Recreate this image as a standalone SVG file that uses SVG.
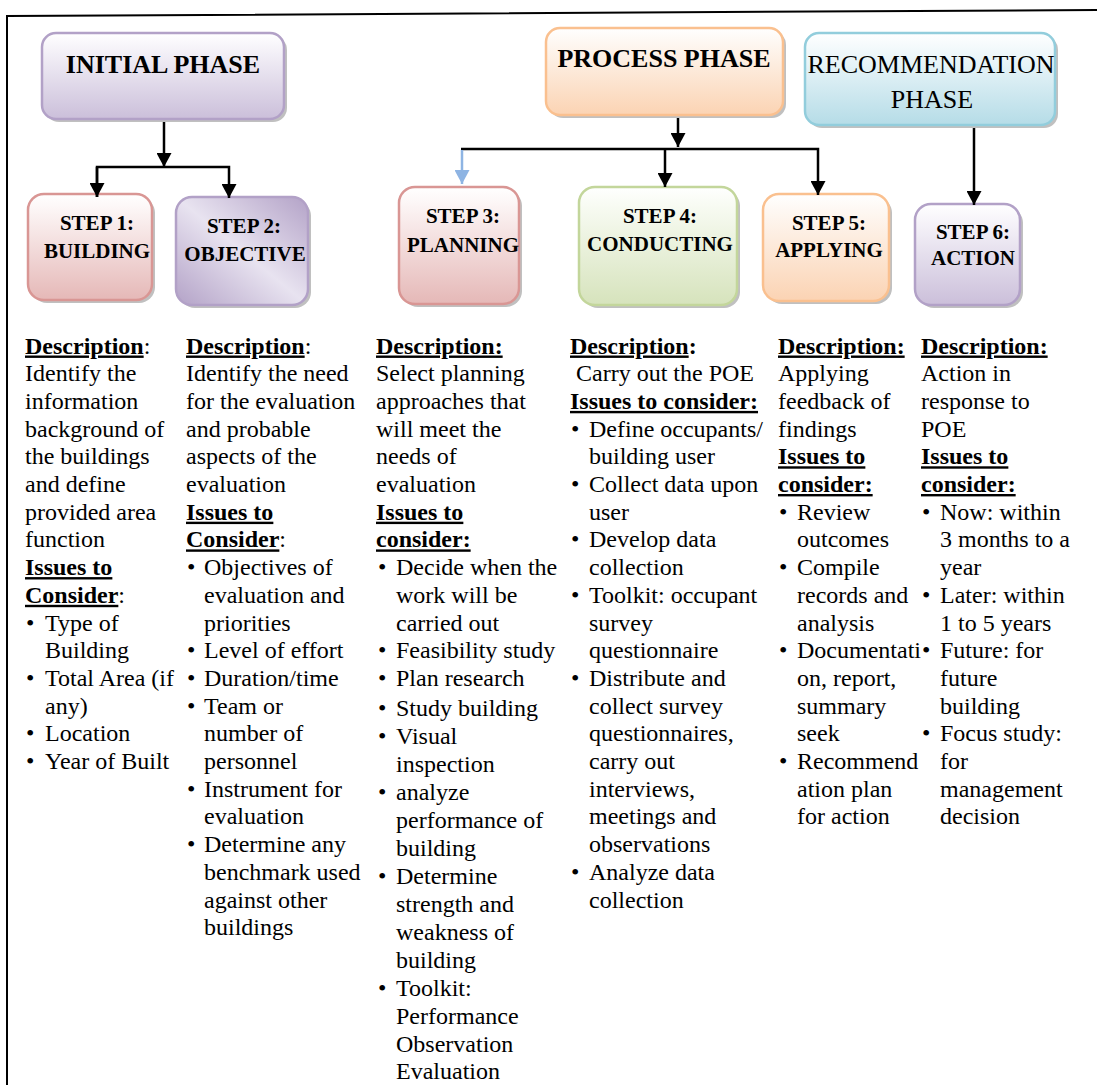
<svg xmlns="http://www.w3.org/2000/svg" width="1097" height="1085" viewBox="0 0 1097 1085" font-family="Liberation Serif, Times New Roman, DejaVu Serif, serif">
<defs>
  <linearGradient id="gPur" x1="0" y1="0" x2="0" y2="1"><stop offset="0" stop-color="#ffffff"/><stop offset="0.15" stop-color="#f7f5fa"/><stop offset="1" stop-color="#cbbfda"/></linearGradient>
  <linearGradient id="gRed" x1="0" y1="0" x2="0" y2="1"><stop offset="0" stop-color="#ffffff"/><stop offset="0.15" stop-color="#fcf5f5"/><stop offset="1" stop-color="#e5b8b7"/></linearGradient>
  <linearGradient id="gOra" x1="0" y1="0" x2="0" y2="1"><stop offset="0" stop-color="#ffffff"/><stop offset="0.15" stop-color="#fef8f3"/><stop offset="1" stop-color="#fbd3b3"/></linearGradient>
  <linearGradient id="gBlu" x1="0" y1="0" x2="0" y2="1"><stop offset="0" stop-color="#ffffff"/><stop offset="0.15" stop-color="#f4fafc"/><stop offset="1" stop-color="#b5dce7"/></linearGradient>
  <linearGradient id="gGrn" x1="0" y1="0" x2="0" y2="1"><stop offset="0" stop-color="#ffffff"/><stop offset="0.15" stop-color="#f8fbf3"/><stop offset="1" stop-color="#d6e3bc"/></linearGradient>
  <linearGradient id="gDiag" x1="0" y1="1" x2="1" y2="0"><stop offset="0" stop-color="#b3a2c7"/><stop offset="0.5" stop-color="#e8e3f0"/><stop offset="1" stop-color="#b3a2c7"/></linearGradient>
  <marker id="ah" markerUnits="userSpaceOnUse" markerWidth="14" markerHeight="15" viewBox="0 0 14 15" refX="14" refY="7.5" orient="auto">
    <path d="M0,0 L14,7.5 L0,15 Z" fill="#000"/>
  </marker>
  <marker id="ahb" markerUnits="userSpaceOnUse" markerWidth="14" markerHeight="15" viewBox="0 0 14 15" refX="14" refY="7.5" orient="auto">
    <path d="M0,0 L14,7.5 L0,15 Z" fill="#8eb4e3"/>
  </marker>
</defs>
<style>
  text{font-family:Liberation Serif, Times New Roman, DejaVu Serif, serif}
  .t{font-size:24px;fill:#000}
  .b{font-weight:bold}
  .u{text-decoration:underline}
  .lbl{font-weight:bold;font-size:21px;text-anchor:middle;fill:#000}
  .ph{font-size:26px;text-anchor:middle;fill:#000}
  .sh{fill:#8c8c8c;opacity:0.55}
  .box{stroke-width:2.5}
  .pur{fill:url(#gPur);stroke:#b2a1c7}
  .red{fill:url(#gRed);stroke:#d99694}
  .ora{fill:url(#gOra);stroke:#fac08f}
  .blu{fill:url(#gBlu);stroke:#92cddc}
  .grn{fill:url(#gGrn);stroke:#c3d69b}
  .dia{fill:url(#gDiag);stroke:#b2a1c7}
  .conn{stroke:#000;stroke-width:2.5;fill:none}
</style>

<rect width="1097" height="1085" fill="#ffffff"/>
<!-- outer frame -->
<polyline points="7,1085 7,16 1097,10" fill="none" stroke="#000" stroke-width="2"/>

<!-- phase nodes -->
<g id="initial-phase">
  <rect class="sh" x="45" y="36" width="242" height="86" rx="14"/>
  <rect class="box pur" x="42" y="33" width="242" height="86" rx="14"/>
  <text class="ph b" x="163" y="73">INITIAL PHASE</text>
</g>
<g id="process-phase">
  <rect class="sh" x="549" y="31" width="237" height="87" rx="14"/>
  <rect class="box ora" x="546" y="28" width="237" height="87" rx="14"/>
  <text class="ph b" x="664" y="67">PROCESS PHASE</text>
</g>
<g id="recommendation-phase">
  <rect class="sh" x="808" y="36" width="250" height="92" rx="14"/>
  <rect class="box blu" x="805" y="33" width="250" height="92" rx="14"/>
  <text class="ph" x="931" y="73">RECOMMENDATION</text>
  <text class="ph" x="932" y="108">PHASE</text>
</g>

<!-- step nodes -->
<g id="step1">
  <rect class="sh" x="31" y="197" width="124" height="106" rx="16"/>
  <rect class="box red" x="28" y="194" width="124" height="106" rx="16"/>
  <text class="lbl" x="97" y="230">STEP 1:</text>
  <text class="lbl" x="97" y="258">BUILDING</text>
</g>
<g id="step2">
  <rect class="sh" x="179" y="200" width="132" height="108" rx="16"/>
  <rect class="box dia" x="176" y="197" width="132" height="108" rx="16"/>
  <text class="lbl" x="244" y="233">STEP 2:</text>
  <text class="lbl" x="245" y="261">OBJECTIVE</text>
</g>
<g id="step3">
  <rect class="sh" x="402" y="190" width="120" height="117" rx="16"/>
  <rect class="box red" x="399" y="187" width="120" height="117" rx="16"/>
  <text class="lbl" x="463" y="223">STEP 3:</text>
  <text class="lbl" x="463" y="252">PLANNING</text>
</g>
<g id="step4">
  <rect class="sh" x="582" y="190" width="158" height="118" rx="16"/>
  <rect class="box grn" x="579" y="187" width="158" height="118" rx="16"/>
  <text class="lbl" x="660" y="223">STEP 4:</text>
  <text class="lbl" x="660" y="251">CONDUCTING</text>
</g>
<g id="step5">
  <rect class="sh" x="766" y="197" width="126" height="107" rx="16"/>
  <rect class="box ora" x="763" y="194" width="126" height="107" rx="16"/>
  <text class="lbl" x="829" y="230">STEP 5:</text>
  <text class="lbl" x="829" y="257">APPLYING</text>
</g>
<g id="step6">
  <rect class="sh" x="918" y="207" width="105" height="101" rx="16"/>
  <rect class="box pur" x="915" y="204" width="105" height="101" rx="16"/>
  <text class="lbl" x="973" y="239">STEP 6:</text>
  <text class="lbl" x="973" y="265">ACTION</text>
</g>

<!-- connectors -->
<g id="connectors">
  <path class="conn" d="M164,122 V167" marker-end="url(#ah)"/>
  <path class="conn" d="M97,197 V167 H229 V198" marker-end="url(#ah)"/>
  <path class="conn" d="M97,167 V197" marker-end="url(#ah)"/>
  <path class="conn" d="M678,118 V147" marker-end="url(#ah)"/>
  <path class="conn" d="M461,149 H818 V195" marker-end="url(#ah)"/>
  <path class="conn" d="M665,149 V187" marker-end="url(#ah)"/>
  <path d="M462,150 V184" stroke="#8eb4e3" stroke-width="2.5" fill="none" marker-end="url(#ahb)"/>
  <path class="conn" d="M974,128 V205" marker-end="url(#ah)"/>
</g>

<!-- column 1 -->
<g id="desc-step1" class="t">
  <text x="25" y="353.5"><tspan class="b u">Description</tspan>:</text>
  <text x="25" y="381.2">Identify the</text>
  <text x="25" y="408.9">information</text>
  <text x="25" y="436.6">background of</text>
  <text x="25" y="464.3">the buildings</text>
  <text x="25" y="492">and define</text>
  <text x="25" y="519.7">provided area</text>
  <text x="25" y="547.4">function</text>
  <text x="25" y="575.1" class="b u">Issues to</text>
  <text x="25" y="602.8"><tspan class="b u">Consider</tspan>:</text>
  <text x="26" y="630.5">•</text><text x="45" y="630.5">Type of</text>
  <text x="45" y="658.2">Building</text>
  <text x="26" y="685.9">•</text><text x="45" y="685.9">Total Area (if</text>
  <text x="45" y="713.6">any)</text>
  <text x="26" y="741.3">•</text><text x="45" y="741.3">Location</text>
  <text x="26" y="769">•</text><text x="45" y="769">Year of Built</text>
</g>

<!-- column 2 -->
<g id="desc-step2" class="t">
  <text x="186" y="353.5"><tspan class="b u">Description</tspan>:</text>
  <text x="186" y="381.2">Identify the need</text>
  <text x="186" y="408.9">for the evaluation</text>
  <text x="186" y="436.6">and probable</text>
  <text x="186" y="464.3">aspects of the</text>
  <text x="186" y="492">evaluation</text>
  <text x="186" y="519.7" class="b u">Issues to</text>
  <text x="186" y="547.4"><tspan class="b u">Consider</tspan>:</text>
  <text x="187" y="575.1">•</text><text x="204" y="575.1">Objectives of</text>
  <text x="204" y="602.8">evaluation and</text>
  <text x="204" y="630.5">priorities</text>
  <text x="187" y="658.2">•</text><text x="204" y="658.2">Level of effort</text>
  <text x="187" y="685.9">•</text><text x="204" y="685.9">Duration/time</text>
  <text x="187" y="713.6">•</text><text x="204" y="713.6">Team or</text>
  <text x="204" y="741.3">number of</text>
  <text x="204" y="769">personnel</text>
  <text x="187" y="796.7">•</text><text x="204" y="796.7">Instrument for</text>
  <text x="204" y="824.4">evaluation</text>
  <text x="187" y="852.1">•</text><text x="204" y="852.1">Determine any</text>
  <text x="204" y="879.8">benchmark used</text>
  <text x="204" y="907.5">against other</text>
  <text x="204" y="935.2">buildings</text>
</g>

<!-- column 3 -->
<g id="desc-step3" class="t">
  <text x="376" y="353.5" class="b u">Description:</text>
  <text x="376" y="381.2">Select planning</text>
  <text x="376" y="408.9">approaches that</text>
  <text x="376" y="436.6">will meet the</text>
  <text x="376" y="464.3">needs of</text>
  <text x="376" y="492">evaluation</text>
  <text x="376" y="519.7" class="b u">Issues to</text>
  <text x="376" y="547.4" class="b u">consider:</text>
  <text x="378" y="575.1">•</text><text x="396" y="575.1">Decide when the</text>
  <text x="396" y="602.8">work will be</text>
  <text x="396" y="630.5">carried out</text>
  <text x="378" y="658.2">•</text><text x="396" y="658.2">Feasibility study</text>
  <text x="378" y="685.9">•</text><text x="396" y="685.9">Plan research</text>
  <text x="378" y="716">•</text><text x="396" y="716">Study building</text>
  <text x="378" y="744">•</text><text x="396" y="744">Visual</text>
  <text x="396" y="772">inspection</text>
  <text x="378" y="800">•</text><text x="396" y="800">analyze</text>
  <text x="396" y="828">performance of</text>
  <text x="396" y="856">building</text>
  <text x="378" y="884">•</text><text x="396" y="884">Determine</text>
  <text x="396" y="912">strength and</text>
  <text x="396" y="940">weakness of</text>
  <text x="396" y="968">building</text>
  <text x="378" y="996">•</text><text x="396" y="996">Toolkit:</text>
  <text x="396" y="1024">Performance</text>
  <text x="396" y="1052">Observation</text>
  <text x="396" y="1079">Evaluation</text>
</g>

<!-- column 4 -->
<g id="desc-step4" class="t">
  <text x="570" y="353.5"><tspan class="b u">Description</tspan><tspan class="b">:</tspan></text>
  <text x="576" y="381.2">Carry out the POE</text>
  <text x="570" y="408.9" class="b u">Issues to consider:</text>
  <text x="571" y="436.6">•</text><text x="589" y="436.6">Define occupants/</text>
  <text x="589" y="464.3">building user</text>
  <text x="571" y="492">•</text><text x="589" y="492">Collect data upon</text>
  <text x="589" y="519.7">user</text>
  <text x="571" y="547.4">•</text><text x="589" y="547.4">Develop data</text>
  <text x="589" y="575.1">collection</text>
  <text x="571" y="602.8">•</text><text x="589" y="602.8">Toolkit: occupant</text>
  <text x="589" y="630.5">survey</text>
  <text x="589" y="658.2">questionnaire</text>
  <text x="571" y="685.9">•</text><text x="589" y="685.9">Distribute and</text>
  <text x="589" y="713.6">collect survey</text>
  <text x="589" y="741.3">questionnaires,</text>
  <text x="589" y="769">carry out</text>
  <text x="589" y="796.7">interviews,</text>
  <text x="589" y="824.4">meetings and</text>
  <text x="589" y="852.1">observations</text>
  <text x="571" y="879.8">•</text><text x="589" y="879.8">Analyze data</text>
  <text x="589" y="907.5">collection</text>
</g>

<!-- column 5 -->
<g id="desc-step5" class="t">
  <text x="778" y="353.5" class="b u">Description:</text>
  <text x="778" y="381.2">Applying</text>
  <text x="778" y="408.9">feedback of</text>
  <text x="778" y="436.6">findings</text>
  <text x="778" y="464.3" class="b u">Issues to</text>
  <text x="778" y="492" class="b u">consider:</text>
  <text x="779" y="519.7">•</text><text x="797" y="519.7">Review</text>
  <text x="797" y="547.4">outcomes</text>
  <text x="779" y="575.1">•</text><text x="797" y="575.1">Compile</text>
  <text x="797" y="602.8">records and</text>
  <text x="797" y="630.5">analysis</text>
  <text x="779" y="658.2">•</text><text x="797" y="658.2">Documentati</text>
  <text x="797" y="685.9">on, report,</text>
  <text x="797" y="713.6">summary</text>
  <text x="797" y="741.3">seek</text>
  <text x="779" y="769">•</text><text x="797" y="769">Recommend</text>
  <text x="797" y="796.7">ation plan</text>
  <text x="797" y="824.4">for action</text>
</g>

<!-- column 6 -->
<g id="desc-step6" class="t">
  <text x="921" y="353.5" class="b u">Description:</text>
  <text x="921" y="381.2">Action in</text>
  <text x="921" y="408.9">response to</text>
  <text x="921" y="436.6">POE</text>
  <text x="921" y="464.3" class="b u">Issues to</text>
  <text x="921" y="492" class="b u">consider:</text>
  <text x="922" y="519.7">•</text><text x="940" y="519.7">Now: within</text>
  <text x="940" y="547.4">3 months to a</text>
  <text x="940" y="575.1">year</text>
  <text x="922" y="602.8">•</text><text x="940" y="602.8">Later: within</text>
  <text x="940" y="630.5">1 to 5 years</text>
  <text x="922" y="658.2">•</text><text x="940" y="658.2">Future: for</text>
  <text x="940" y="685.9">future</text>
  <text x="940" y="713.6">building</text>
  <text x="922" y="741.3">•</text><text x="940" y="741.3">Focus study:</text>
  <text x="940" y="769">for</text>
  <text x="940" y="796.7">management</text>
  <text x="940" y="824.4">decision</text>
</g>
</svg>
